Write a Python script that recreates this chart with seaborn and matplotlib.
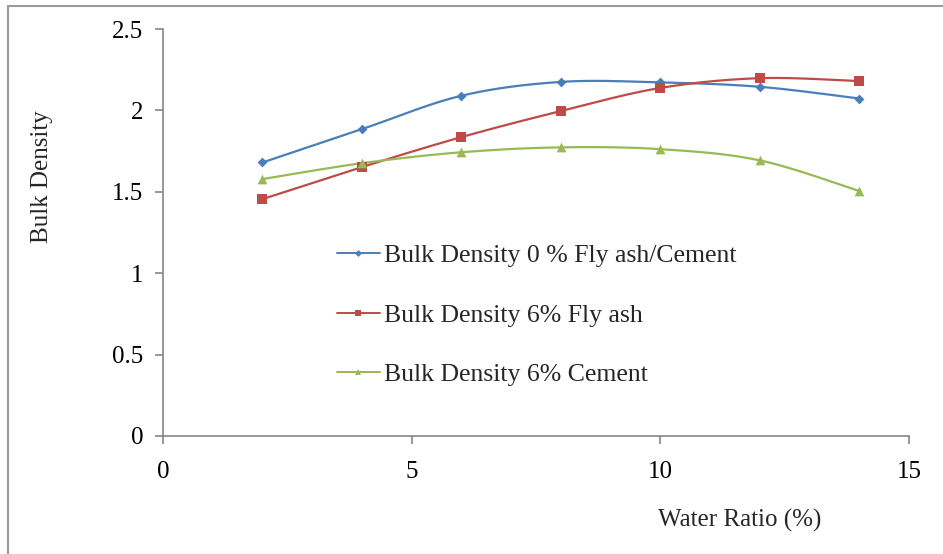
import numpy as np
import pandas as pd
import matplotlib
matplotlib.use("Agg")
import matplotlib.pyplot as plt
import seaborn as sns
from matplotlib.lines import Line2D

water_ratio = [2, 4, 6, 8, 10, 12, 14]
bd_plain = [1.68, 1.885, 2.09, 2.175, 2.172, 2.145, 2.073]
bd_flyash = [1.455, 1.652, 1.836, 1.996, 2.138, 2.198, 2.18]
bd_cement = [1.578, 1.676, 1.743, 1.773, 1.762, 1.693, 1.505]
labels = ["Bulk Density 0 % Fly ash/Cement", "Bulk Density 6% Fly ash", "Bulk Density 6% Cement"]
colors = ["#4A7EBB", "#BE4B48", "#98B954"]
markers = ["D", "s", "^"]
msizes = [5, 7, 7]

sns.set_theme(style="white")
plt.rcParams['font.family'] = ['Liberation Serif', 'DejaVu Serif']


def smooth(x, y, n=30):
    # Excel-like smoothing: cubic Bezier with Catmull-Rom control points
    x = np.asarray(x, float); y = np.asarray(y, float)
    px = np.concatenate([[x[0]], x, [x[-1]]])
    py = np.concatenate([[y[0]], y, [y[-1]]])
    xs, ys = [], []
    t = np.linspace(0, 1, n)
    for i in range(1, len(px) - 2):
        p0 = np.array([px[i], py[i]]); p3 = np.array([px[i + 1], py[i + 1]])
        p1 = p0 + (np.array([px[i + 1], py[i + 1]]) - np.array([px[i - 1], py[i - 1]])) / 6
        p2 = p3 - (np.array([px[i + 2], py[i + 2]]) - np.array([px[i], py[i]])) / 6
        b = ((1 - t) ** 3)[:, None] * p0 + (3 * (1 - t) ** 2 * t)[:, None] * p1 + \
            (3 * (1 - t) * t ** 2)[:, None] * p2 + (t ** 3)[:, None] * p3
        xs.extend(b[:, 0]); ys.extend(b[:, 1])
    return np.array(xs), np.array(ys)


fig = plt.figure(figsize=(9.43, 5.54), dpi=100)
ax = fig.add_axes([163 / 943, 1 - 436 / 554, (909 - 163) / 943, (436 - 29) / 554])

series = [bd_plain, bd_flyash, bd_cement]
handles = []
for vals, lab, c, m, ms in zip(series, labels, colors, markers, msizes):
    sx, sy = smooth(water_ratio, vals)
    sm = pd.DataFrame({"x": sx, "y": sy})
    sns.lineplot(data=sm, x="x", y="y", ax=ax, color=c, linewidth=1.6, sort=False,
                 estimator=None)
    pts = pd.DataFrame({"x": water_ratio, "y": vals})
    sns.scatterplot(data=pts, x="x", y="y", ax=ax, color=c, marker=m, s=ms ** 2,
                    linewidth=0, zorder=3)
    handles.append(Line2D([], [], color=c, lw=1.4, marker=m, markersize=ms * 0.7,
                          markeredgewidth=0))

ax.set_xlim(0, 15)
ax.set_ylim(0, 2.5)
ax.set_xticks([0, 5, 10, 15])
ax.set_yticks([0, 0.5, 1, 1.5, 2, 2.5])
ax.set_yticklabels(["0", "0.5", "1", "1.5", "2", "2.5"])
ax.set_xlabel("")
ax.set_ylabel("")
for s in ["top", "right"]:
    ax.spines[s].set_visible(False)
for s in ["left", "bottom"]:
    ax.spines[s].set_color("#868686")
    ax.spines[s].set_linewidth(1.2)
ax.tick_params(axis="both", which="both", direction="out", length=6, width=1.2,
               color="#868686", labelsize=18, labelcolor="black",
               bottom=True, left=True)
ax.tick_params(axis="x", pad=12)
ax.tick_params(axis="y", pad=8)
ax.grid(False)

fig.text(42 / 943, 1 - 177 / 554, "Bulk Density", rotation=90, ha="center", va="center",
         fontsize=18)
fig.text(740 / 943, 1 - 520 / 554, "Water Ratio (%)", ha="center", va="center",
         fontsize=18)

leg = ax.legend(handles=handles, labels=labels, loc="upper left",
                bbox_to_anchor=(164 / 746, 1 - 205 / 407), frameon=False, fontsize=18.5,
                handlelength=1.65, handletextpad=0.15, labelspacing=1.42, borderaxespad=0)

# figure border (top and left visible in the reference)
fig.add_artist(Line2D([8 / 943, 8 / 943], [0, 1 - 6 / 554], transform=fig.transFigure,
                      color="#9a9a9a", lw=1.5))
fig.add_artist(Line2D([8 / 943, 1], [1 - 6 / 554, 1 - 6 / 554], transform=fig.transFigure,
                      color="#9a9a9a", lw=1.5))

fig.savefig("out.png", dpi=100, facecolor="white")
